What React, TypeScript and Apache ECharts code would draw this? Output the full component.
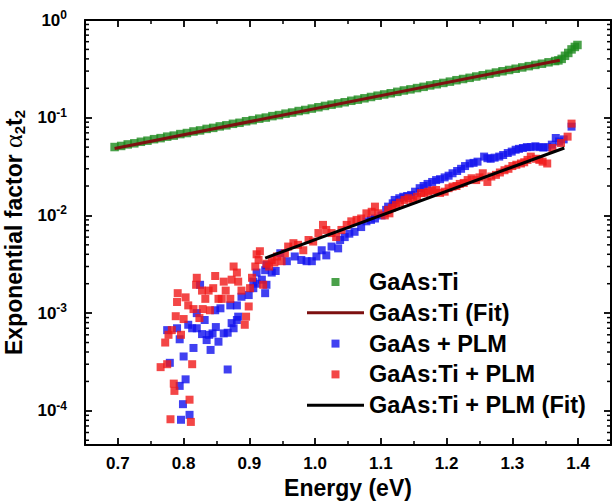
import React, { useEffect, useRef } from 'react';
import * as echarts from 'echarts';

const FONT = '"Liberation Sans", Arial, sans-serif';

// Axis ranges
const X_MIN = 0.65;
const X_MAX = 1.45;
const Y_MIN = 4.47e-5;
const Y_MAX = 1;

// GaAs:Ti (green squares)
const greenE = [
  0.695, 0.705, 0.715, 0.725, 0.735, 0.745, 0.755, 0.765, 0.775, 0.785,
  0.795, 0.805, 0.815, 0.825, 0.835, 0.845, 0.855, 0.865, 0.875, 0.885,
  0.895, 0.905, 0.915, 0.925, 0.935, 0.945, 0.955, 0.965, 0.975, 0.985,
  0.995, 1.005, 1.015, 1.025, 1.035, 1.045, 1.055, 1.065, 1.075, 1.085,
  1.095, 1.105, 1.115, 1.125, 1.135, 1.145, 1.155, 1.165, 1.175, 1.185,
  1.195, 1.205, 1.215, 1.225, 1.235, 1.245, 1.255, 1.265, 1.275, 1.285,
  1.295, 1.305, 1.315, 1.325, 1.335, 1.345, 1.355, 1.365, 1.370, 1.375,
  1.380, 1.385, 1.390, 1.395, 1.399,
];
const greenV = [
  0.0501, 0.0514, 0.0533, 0.0547, 0.0567, 0.0582, 0.0603, 0.0618, 0.0640, 0.0656,
  0.0680, 0.0697, 0.0723, 0.0741, 0.0768, 0.0787, 0.0815, 0.0836, 0.0866, 0.0887,
  0.0920, 0.0944, 0.0978, 0.1003, 0.1038, 0.1064, 0.110, 0.113, 0.117, 0.120,
  0.124, 0.128, 0.132, 0.136, 0.140, 0.144, 0.149, 0.153, 0.158, 0.163,
  0.168, 0.173, 0.178, 0.184, 0.190, 0.195, 0.201, 0.207, 0.214, 0.220,
  0.227, 0.234, 0.242, 0.249, 0.256, 0.264, 0.272, 0.281, 0.290, 0.299,
  0.308, 0.317, 0.327, 0.337, 0.347, 0.357, 0.369, 0.380, 0.386, 0.40,
  0.43, 0.46, 0.50, 0.53, 0.555,
];

// GaAs:Ti (Fit)
const fit1E = [0.695, 1.372];
const fit1V = [0.0485, 0.388];

// GaAs + PLM (blue squares)
const blueE = [
  0.775, 0.779, 0.790, 0.794, 0.794, 0.796, 0.799, 0.800, 0.803, 0.807,
  0.809, 0.813, 0.815, 0.820, 0.820, 0.825, 0.828, 0.832, 0.835, 0.839,
  0.841, 0.844, 0.848, 0.849, 0.853, 0.856, 0.861, 0.867, 0.867, 0.871,
  0.873, 0.876, 0.881, 0.881, 0.883, 0.888, 0.899, 0.906, 0.906, 0.911,
  0.911, 0.919, 0.924, 0.924, 0.926, 0.926, 0.934, 0.940, 0.947, 0.957,
  0.969, 0.979, 0.987, 0.995, 1.002, 1.010, 1.017, 1.025, 1.035, 1.038,
  1.045, 1.052, 1.060, 1.070, 1.078, 1.085, 1.091, 1.101, 1.108, 1.111,
  1.118, 1.121, 1.128, 1.134, 1.140, 1.146, 1.152, 1.159, 1.165, 1.171,
  1.178, 1.184, 1.190, 1.197, 1.203, 1.209, 1.216, 1.222, 1.228, 1.235,
  1.241, 1.247, 1.257, 1.262, 1.267, 1.273, 1.280, 1.286, 1.293, 1.299,
  1.305, 1.310, 1.316, 1.322, 1.328, 1.335, 1.341, 1.347, 1.353, 1.360,
  1.366, 1.371, 1.378, 1.390,
];
const blueV = [
  6.7e-4, 3.1e-4, 7.0e-4, 5.4e-4, 1.8e-4, 8.1e-5, 1.17e-4, 3.6e-4, 2.1e-4, 7.6e-4,
  9.1e-5, 7.0e-4, 4.4e-4, 7.0e-4, 1.0e-3, 1.95e-3, 6.1e-4, 8.5e-4, 5.3e-4, 6.0e-4,
  4.2e-4, 6.2e-4, 1.07e-3, 7.2e-4, 5.1e-4, 1.12e-3, 6.2e-4, 6.3e-4, 2.65e-4, 1.2e-3,
  7.9e-4, 7.0e-4, 8.5e-4, 1.2e-3, 9.2e-4, 1.47e-3, 1.53e-3, 1.8e-3, 2.1e-3, 2.0e-3,
  2.6e-3, 2.2e-3, 1.6e-3, 2.75e-3, 3.1e-3, 1.95e-3, 2.6e-3, 2.7e-3, 4.1e-3, 3.4e-3,
  3.8e-3, 3.5e-3, 3.4e-3, 3.4e-3, 3.8e-3, 4.4e-3, 3.9e-3, 4.8e-3, 4.6e-3, 5.6e-3,
  6.0e-3, 6.5e-3, 6.8e-3, 7.6e-3, 8.7e-3, 9.0e-3, 9.3e-3, 1.0e-2, 1.14e-2, 1.23e-2,
  1.33e-2, 1.44e-2, 1.5e-2, 1.55e-2, 1.58e-2, 1.62e-2, 1.75e-2, 1.9e-2, 2.0e-2, 2.1e-2,
  2.2e-2, 2.3e-2, 2.35e-2, 2.45e-2, 2.55e-2, 2.7e-2, 2.85e-2, 3.0e-2, 3.2e-2, 3.4e-2,
  3.45e-2, 3.55e-2, 4.0e-2, 3.85e-2, 3.8e-2, 3.9e-2, 4.0e-2, 4.15e-2, 4.35e-2, 4.5e-2,
  4.7e-2, 4.8e-2, 4.9e-2, 5.0e-2, 5.0e-2, 5.1e-2, 5.0e-2, 4.95e-2, 5.0e-2, 5.3e-2,
  6.2e-2, 5.7e-2, 6.0e-2, 8.1e-2,
];

// GaAs:Ti + PLM (red squares)
const redE = [
  0.765, 0.772, 0.775, 0.777, 0.780, 0.782, 0.785, 0.786, 0.788, 0.790,
  0.791, 0.796, 0.800, 0.803, 0.807, 0.809, 0.811, 0.813, 0.815, 0.819,
  0.820, 0.824, 0.828, 0.829, 0.833, 0.838, 0.840, 0.845, 0.848, 0.853,
  0.858, 0.861, 0.864, 0.871, 0.873, 0.876, 0.881, 0.883, 0.888, 0.893,
  0.895, 0.899, 0.901, 0.904, 0.909, 0.911, 0.914, 0.916, 0.921, 0.926,
  0.930, 0.934, 0.938, 0.942, 0.949, 0.954, 0.959, 0.967, 0.974, 0.982,
  0.990, 0.997, 1.005, 1.012, 1.017, 1.025, 1.032, 1.040, 1.048, 1.055,
  1.063, 1.070, 1.078, 1.086, 1.091, 1.096, 1.106, 1.111, 1.113, 1.117,
  1.123, 1.129, 1.136, 1.142, 1.149, 1.155, 1.161, 1.166, 1.172, 1.178,
  1.184, 1.190, 1.197, 1.203, 1.209, 1.215, 1.220, 1.226, 1.232, 1.238,
  1.245, 1.250, 1.255, 1.262, 1.268, 1.275, 1.281, 1.288, 1.294, 1.300,
  1.306, 1.313, 1.318, 1.323, 1.328, 1.336, 1.341, 1.346, 1.353, 1.361,
  1.374, 1.384, 1.390,
];
const redV = [
  2.8e-4, 5.0e-4, 3.0e-4, 6.0e-4, 8.2e-5, 6.7e-4, 1.9e-4, 1.6e-4, 9.3e-4, 1.3e-3,
  1.6e-3, 6.0e-4, 8.7e-4, 1.45e-3, 1.2e-3, 1.3e-4, 7.7e-5, 3.0e-4, 1.1e-3, 1.95e-3,
  2.3e-3, 8.9e-4, 1.7e-3, 1.1e-3, 1.4e-3, 1.7e-3, 1.07e-3, 1.8e-3, 2.4e-3, 1.4e-3,
  1.4e-3, 2.1e-3, 1.7e-3, 1.4e-3, 2.2e-3, 3.0e-3, 2.6e-3, 2.1e-3, 1.7e-3, 7.6e-4,
  9.2e-4, 1.17e-3, 1.8e-3, 2.3e-3, 3.0e-3, 4.0e-3, 3.5e-3, 4.3e-3, 1.95e-3, 3.2e-3,
  3.0e-3, 3.5e-3, 3.3e-3, 3.8e-3, 3.4e-3, 4.1e-3, 4.8e-3, 5.2e-3, 5.0e-3, 4.4e-3,
  5.6e-3, 5.4e-3, 6.6e-3, 8.0e-3, 7.1e-3, 6.6e-3, 6.0e-3, 7.1e-3, 8.0e-3, 8.7e-3,
  9.0e-3, 9.3e-3, 1.05e-2, 1.09e-2, 1.23e-2, 1.05e-2, 1.0e-2, 1.14e-2, 1.05e-2, 1.2e-2,
  1.28e-2, 1.35e-2, 1.44e-2, 1.5e-2, 1.44e-2, 1.55e-2, 1.69e-2, 1.7e-2, 1.75e-2, 1.8e-2,
  1.82e-2, 1.7e-2, 1.75e-2, 1.9e-2, 1.97e-2, 2.0e-2, 2.1e-2, 2.15e-2, 2.3e-2, 2.4e-2,
  2.3e-2, 2.45e-2, 2.7e-2, 2.2e-2, 2.5e-2, 2.6e-2, 2.75e-2, 2.9e-2, 3.0e-2, 3.2e-2,
  3.3e-2, 3.4e-2, 3.5e-2, 3.7e-2, 4.0e-2, 3.8e-2, 3.7e-2, 3.55e-2, 3.4e-2, 4.9e-2,
  5.5e-2, 6.4e-2, 8.7e-2,
];

// GaAs:Ti + PLM (Fit)
const fit2E = [0.924, 1.379];
const fit2V = [0.00366, 0.049];

// Log minor tick values (2..9 x 10^k)
const minorY: number[] = [];
for (let k = -5; k <= -1; k++) {
  for (let m = 2; m <= 9; m++) {
    const v = m * Math.pow(10, k);
    if (v > Y_MIN && v < Y_MAX) minorY.push(v);
  }
}

const zip = (a: number[], b: number[]) => a.map((x, i) => [x, b[i]]);

const SQUARE_ICON = 'path://M0,0L10,0L10,10L0,10Z';
const LINE_ICON = 'path://M0,0L57,0L57,3L0,3Z';

const legendItems = [
  { name: 'GaAs:Ti', icon: SQUARE_ICON },
  { name: 'GaAs:Ti (Fit)', icon: LINE_ICON },
  { name: 'GaAs + PLM', icon: SQUARE_ICON },
  { name: 'GaAs:Ti + PLM', icon: SQUARE_ICON },
  { name: 'GaAs:Ti + PLM (Fit)', icon: LINE_ICON },
];

export default function App() {
  const ref = useRef<HTMLDivElement>(null);
  useEffect(() => {
    if (!ref.current) return;
    const chart = echarts.init(ref.current, undefined, { renderer: 'svg' });
    const axisLine = { show: true, onZero: false, lineStyle: { color: '#000', width: 2 } };
    const majorTick = { show: true, inside: true, length: 7, lineStyle: { color: '#000', width: 1.8 } };
    const minorTickAxis = { show: true, inside: true, length: 4, lineStyle: { color: '#000', width: 1.5 } };
    const xLabelFmt = (v: number) => {
      const t = v * 10;
      return Math.abs(t - Math.round(t)) < 1e-6 ? v.toFixed(1) : '';
    };
    const yLabelFmt = (v: number) => {
      const e = Math.log10(v);
      const r = Math.round(e);
      if (Math.abs(e - r) > 1e-6) return '';
      return `{b|10}{s|${r}}`;
    };
    const option: any = {
      animation: false,
      backgroundColor: '#fff',
      grid: { left: 85, right: 4, top: 20, bottom: 57, containLabel: false, outerBoundsMode: 'none' },
      legend: {
        orient: 'vertical',
        left: 302,
        top: 265,
        padding: 5,
        itemWidth: 57,
        itemHeight: 8,
        itemGap: 6.8,
        symbolKeepAspect: true,
        selectedMode: false,
        data: legendItems,
        textStyle: { fontFamily: FONT, fontWeight: 'bold', fontSize: 23.5, lineHeight: 22.5, color: '#000' },
      },
      xAxis: [
        {
          type: 'value', position: 'bottom', min: X_MIN, max: X_MAX, splitNumber: 8,
          axisLine, axisTick: majorTick, splitLine: { show: false },
          axisLabel: { formatter: xLabelFmt, margin: 10, fontFamily: FONT, fontWeight: 'bold', fontSize: 17, color: '#000', showMinLabel: false, showMaxLabel: false },
          name: 'Energy (eV)', nameLocation: 'middle', nameGap: 31,
          nameTextStyle: { fontFamily: FONT, fontWeight: 'bold', fontSize: 23, color: '#000' },
        },
        {
          type: 'value', position: 'top', min: X_MIN, max: X_MAX, splitNumber: 8,
          axisLine, axisTick: majorTick, splitLine: { show: false }, axisLabel: { show: false },
        },
        {
          type: 'value', position: 'bottom', min: X_MIN, max: X_MAX, interval: 0.1,
          axisLine: { show: false }, axisTick: minorTickAxis, splitLine: { show: false }, axisLabel: { show: false },
        },
        {
          type: 'value', position: 'top', min: X_MIN, max: X_MAX, interval: 0.1,
          axisLine: { show: false }, axisTick: minorTickAxis, splitLine: { show: false }, axisLabel: { show: false },
        },
      ],
      yAxis: [
        {
          type: 'log', logBase: 10, position: 'left', min: Y_MIN, max: Y_MAX,
          axisLine, axisTick: majorTick, splitLine: { show: false },
          axisLabel: {
            formatter: yLabelFmt, margin: 18, showMinLabel: false,
            rich: {
              b: { fontFamily: FONT, fontWeight: 'bold', fontSize: 17, color: '#000' },
              s: { fontFamily: FONT, fontWeight: 'bold', fontSize: 12, color: '#000', padding: [0, 0, 10, 0] },
            },
          },
          name: '{t|Exponential factor }{g|α}{sub|2}{t|t}{sub|2}',
          nameLocation: 'middle', nameGap: 51,
          nameTextStyle: {
            rich: {
              t: { fontFamily: FONT, fontWeight: 'bold', fontSize: 23, color: '#000' },
              g: { fontFamily: '"Liberation Serif", serif', fontWeight: 'normal', fontSize: 26, color: '#000' },
              sub: { fontFamily: FONT, fontWeight: 'bold', fontSize: 15, color: '#000', padding: [11, 0, 0, 0] },
            },
          },
        },
        {
          type: 'log', logBase: 10, position: 'right', min: Y_MIN, max: Y_MAX,
          axisLine, axisTick: majorTick, splitLine: { show: false }, axisLabel: { show: false },
        },
      ],
      series: [
        {
          type: 'custom', name: 'minorTicks', xAxisIndex: 0, yAxisIndex: 0, silent: true, clip: false,
          data: minorY.map((v) => [X_MIN, v]),
          renderItem: (_p: any, api: any) => {
            const v = api.value(1);
            const l = api.coord([X_MIN, v]);
            const r = api.coord([X_MAX, v]);
            const st = { stroke: '#000', lineWidth: 1.5 };
            return {
              type: 'group',
              children: [
                { type: 'line', shape: { x1: l[0], y1: l[1], x2: l[0] + 4, y2: l[1] }, style: st },
                { type: 'line', shape: { x1: r[0] - 4, y1: r[1], x2: r[0], y2: r[1] }, style: st },
              ],
            };
          },
        },
        {
          type: 'scatter', name: 'GaAs:Ti', symbol: 'rect', symbolSize: 8.5,
          itemStyle: { color: '#1d8a1d' }, data: zip(greenE, greenV),
        },
        {
          type: 'scatter', name: 'GaAs + PLM', symbol: 'rect', symbolSize: 8,
          itemStyle: { color: '#1010ee' }, data: zip(blueE, blueV),
        },
        {
          type: 'scatter', name: 'GaAs:Ti + PLM', symbol: 'rect', symbolSize: 8,
          itemStyle: { color: '#f01818' }, data: zip(redE, redV),
        },
        {
          type: 'line', name: 'GaAs:Ti (Fit)', symbol: 'none', showSymbol: false,
          lineStyle: { color: '#7d1010', width: 3 }, itemStyle: { color: '#7d1010' },
          data: zip(fit1E, fit1V),
        },
        {
          type: 'line', name: 'GaAs:Ti + PLM (Fit)', symbol: 'none', showSymbol: false,
          lineStyle: { color: '#000', width: 3 }, itemStyle: { color: '#000' },
          data: zip(fit2E, fit2V),
        },
      ],
    };
    chart.setOption(option);
    return () => chart.dispose();
  }, []);
  return <div ref={ref} style={{ position: 'fixed', left: 0, top: 0, width: 615, height: 502 }} />;
}
